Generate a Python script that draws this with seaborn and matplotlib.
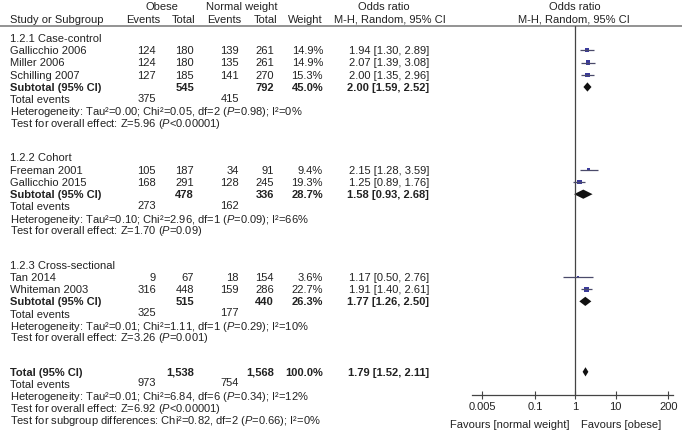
import numpy as np
import pandas as pd
import matplotlib
matplotlib.use("Agg")
import matplotlib.pyplot as plt
import seaborn as sns

# study-level data
studies = ["Gallicchio 2006", "Miller 2006", "Schilling 2007",
           "Freeman 2001", "Gallicchio 2015",
           "Tan 2014", "Whiteman 2003"]
study_group = [0, 0, 0, 1, 1, 2, 2]
obese_events = [124, 124, 127, 105, 168, 9, 316]
obese_total = [180, 180, 185, 187, 291, 67, 448]
normal_events = [139, 135, 141, 34, 128, 18, 159]
normal_total = [261, 261, 270, 91, 245, 154, 286]
weights = [14.9, 14.9, 15.3, 9.4, 19.3, 3.6, 22.7]
odds = [1.94, 2.07, 2.00, 2.15, 1.25, 1.17, 1.91]
ci_low = [1.30, 1.39, 1.35, 1.28, 0.89, 0.50, 1.40]
ci_high = [2.89, 3.08, 2.96, 3.59, 1.76, 2.76, 2.61]

# subgroup summaries
groups = ["1.2.1 Case-control", "1.2.2 Cohort", "1.2.3 Cross-sectional"]
sub_obese_total = ["545", "478", "515"]
sub_normal_total = ["792", "336", "440"]
sub_weight = ["45.0%", "28.7%", "26.3%"]
sub_obese_events = ["375", "273", "325"]
sub_normal_events = ["415", "162", "177"]
sub_odds = [2.00, 1.58, 1.77]
sub_low = [1.59, 0.93, 1.26]
sub_high = [2.52, 2.68, 2.50]
sub_tau2 = ["0.00", "0.10", "0.01"]
sub_chi2 = ["0.05", "2.96", "1.11"]
sub_df = ["2", "1", "1"]
sub_phet = ["0.98", "0.09", "0.29"]
sub_i2 = ["0", "66", "10"]
sub_z = ["5.96", "1.70", "3.26"]
sub_pz = ["<0.00001", "=0.09", "=0.001"]

# overall
tot_obese_total, tot_normal_total, tot_weight = "1,538", "1,568", "100.0%"
tot_obese_events, tot_normal_events = "973", "754"
tot_odds, tot_low, tot_high = 1.79, 1.52, 2.11
tot_het = ("0.01", "6.84", "6", "0.34", "12")
tot_z, tot_pz = "6.92", "<0.00001"
subgroup_diff = ("0.82", "2", "0.66", "0")

axis_ticks = [0.005, 0.1, 1, 10, 200]
axis_ticklabels = ["0.005", "0.1", "1", "10", "200"]

sns.set_theme(style="white")
plt.rcParams['font.family'] = ['Liberation Sans', 'DejaVu Sans']
plt.rcParams['mathtext.fontset'] = 'custom'
plt.rcParams['mathtext.rm'] = 'Liberation Sans'
plt.rcParams['mathtext.it'] = 'Liberation Sans:italic'
plt.rcParams['mathtext.bf'] = 'Liberation Sans:bold'

W, H = 682, 433
FS = 8.0
TXT = '#222222'
fig = plt.figure(figsize=(W / 100, H / 100), dpi=100)
ax = fig.add_axes([0, 0, 1, 1])
ax.set_xlim(0, W)
ax.set_ylim(H, 0)
ax.axis('off')

# forest panel, y in same pixel units
fx0, fx1, fy0, fy1 = 471.7, 673, 26, 395
fax = fig.add_axes([fx0 / W, (H - fy1) / H, (fx1 - fx0) / W, (fy1 - fy0) / H])
fax.set_xscale('log')
fax.set_xlim(10 ** -2.565, 10 ** 2.42)
fax.set_ylim(fy1, fy0)
fax.patch.set_alpha(0)
for s in ['top', 'right', 'left']:
    fax.spines[s].set_visible(False)
fax.spines['bottom'].set_color('#444444')
fax.spines['bottom'].set_linewidth(0.9)
fax.set_yticks([])
fax.set_xticks(axis_ticks)
fax.set_xticklabels(axis_ticklabels)
fax.minorticks_off()
fax.tick_params(axis='x', direction='inout', length=6, width=0.8, color='#444444',
                labelsize=FS, labelcolor=TXT, pad=2, bottom=True)
fax.axvline(1, color='#444444', lw=0.9)


def t(x, y, s, ha='left', bold=False):
    ax.text(x, y + 3.9, s, ha=ha, va='baseline', fontsize=FS, color=TXT,
            fontweight='bold' if bold else 'normal')


def diamond(y, o, lo, hi, h=4.6):
    fax.fill([lo, o, hi, o], [y, y - h, y, y + h], color='#111111', lw=0)


def het_line(tau, chi, df, p, i2):
    return (f"Heterogeneity: Tau²={tau}; Chi²={chi}, df={df} "
            f"($P$={p}); I²={i2}%")


# header
ax.text(162, 6 + 3.9, "Obese", ha='center', va='baseline', fontsize=FS, color=TXT)
ax.text(242, 6 + 3.9, "Normal weight", ha='center', va='baseline', fontsize=FS, color=TXT)
ax.text(384, 6 + 3.9, "Odds ratio", ha='center', va='baseline', fontsize=FS, color=TXT)
ax.text(575, 6 + 3.9, "Odds ratio", ha='center', va='baseline', fontsize=FS, color=TXT)
hy = 19
t(10, hy, "Study or Subgroup")
t(160, hy, "Events", ha='right')
t(195, hy, "Total", ha='right')
t(241, hy, "Events", ha='right')
t(277, hy, "Total", ha='right')
t(323, hy, "Weight", ha='right')
t(390, hy, "M-H, Random, 95% CI", ha='center')
t(574, hy, "M-H, Random, 95% CI", ha='center')
ax.plot([0, W], [26, 26], color='#8a8a8a', lw=1.3)

step = 12.25
y = 38.0
study_df = pd.DataFrame({"study": studies, "group": study_group, "odds": odds,
                         "low": ci_low, "high": ci_high, "weight": weights})
ys = np.zeros(len(studies))
for g, name in enumerate(groups):
    t(10, y, name)
    y += step
    for i in np.where(np.array(study_group) == g)[0]:
        t(10, y, studies[i])
        t(156, y, str(obese_events[i]), ha='right')
        t(194, y, str(obese_total[i]), ha='right')
        t(239, y, str(normal_events[i]), ha='right')
        t(274, y, str(normal_total[i]), ha='right')
        t(323, y, f"{weights[i]:.1f}%", ha='right')
        t(429, y, f"{odds[i]:.2f} [{ci_low[i]:.2f}, {ci_high[i]:.2f}]", ha='right')
        ys[i] = y
        y += step
    t(10, y, "Subtotal (95% CI)", bold=True)
    t(194, y, sub_obese_total[g], ha='right', bold=True)
    t(274, y, sub_normal_total[g], ha='right', bold=True)
    t(323, y, sub_weight[g], ha='right', bold=True)
    t(429, y, f"{sub_odds[g]:.2f} [{sub_low[g]:.2f}, {sub_high[g]:.2f}]", ha='right', bold=True)
    diamond(y, sub_odds[g], sub_low[g], sub_high[g])
    y += step
    t(10, y, "Total events")
    t(156, y - 1.5, sub_obese_events[g], ha='right')
    t(239, y - 1.5, sub_normal_events[g], ha='right')
    y += step
    t(10, y, het_line(sub_tau2[g], sub_chi2[g], sub_df[g], sub_phet[g], sub_i2[g]))
    y += step
    t(10, y - 0.8, f"Test for overall effect: Z={sub_z[g]} ($P${sub_pz[g]})")
    y += step * 2.75

# overall rows
t(10, y, "Total (95% CI)", bold=True)
t(194, y, tot_obese_total, ha='right', bold=True)
t(274, y, tot_normal_total, ha='right', bold=True)
t(323, y, tot_weight, ha='right', bold=True)
t(429, y, f"{tot_odds:.2f} [{tot_low:.2f}, {tot_high:.2f}]", ha='right', bold=True)
diamond(y, tot_odds, tot_low, tot_high)
y += step
t(10, y, "Total events")
t(156, y - 1.5, tot_obese_events, ha='right')
t(239, y - 1.5, tot_normal_events, ha='right')
y += step
t(10, y, het_line(*tot_het))
y += step
t(10, y - 0.8, f"Test for overall effect: Z={tot_z} ($P${tot_pz})")
y += step
chi, df, p, i2 = subgroup_diff
t(10, y - 0.8, f"Test for subgroup differences: Chi²={chi}, df={df} ($P$={p}); I²={i2}%")

# study CIs and weighted squares
study_df["y"] = ys
fax.hlines(study_df["y"], study_df["low"], study_df["high"], color='#4a4a6a', lw=0.9)
wmin, wmax = min(weights), max(weights)
sns.scatterplot(data=study_df, x="odds", y="y", size="weight",
                sizes=(0.6 * wmin, 0.6 * wmax), size_norm=(wmin, wmax),
                marker='s', color='#3a3a9c', linewidth=0, legend=False, ax=fax)
fax.set_xlabel("")
fax.set_ylabel("")
fax.set_ylim(fy1, fy0)

# favours labels
t(570, 424, "Favours [normal weight]", ha='right')
t(581, 424, "Favours [obese]")

fig.savefig("out.png", dpi=100)
